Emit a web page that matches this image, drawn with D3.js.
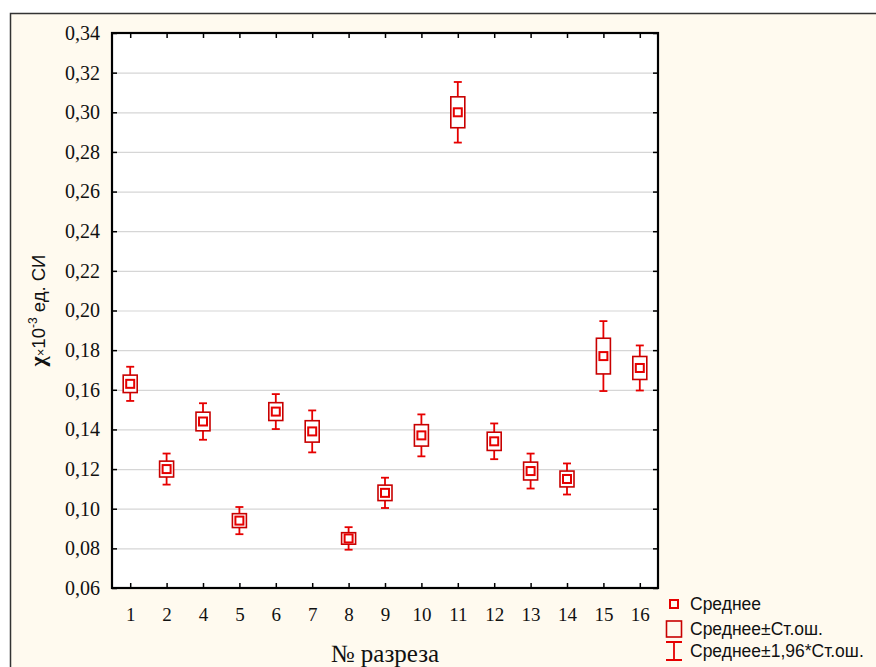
<!DOCTYPE html>
<html>
<head>
<meta charset="utf-8">
<script src="https://cdn.jsdelivr.net/npm/d3@7"></script>
<style>
  body { margin: 0; background: #fff; }
  svg { display: block; }
</style>
</head>
<body>
<svg id="chart" width="876" height="667"></svg>
<script>
// section numbers (no 3)
const sections = ["1", "2", "4", "5", "6", "7", "8", "9", "10", "11", "12", "13", "14", "15", "16"];
// mean magnetic susceptibility, x10^-3 SI units
const means = [0.163, 0.120, 0.144, 0.094, 0.149, 0.139, 0.085, 0.108, 0.137, 0.300, 0.134, 0.119, 0.115, 0.177, 0.171];
// standard error of the mean
const stdErr = [0.0044, 0.0040, 0.0047, 0.0035, 0.0045, 0.0054, 0.0029, 0.0039, 0.0054, 0.0078, 0.0046, 0.0045, 0.0040, 0.0090, 0.0058];
const yTicks = [0.06, 0.08, 0.10, 0.12, 0.14, 0.16, 0.18, 0.20, 0.22, 0.24, 0.26, 0.28, 0.30, 0.32, 0.34];
const legendLabels = ["Среднее", "Среднее±Ст.ош.", "Среднее±1,96*Ст.ош."];

const data = sections.map((s, i) => ({ name: s, mean: means[i], se: stdErr[i] }));

const svg = d3.select("#chart");
const margin = { top: 33, right: 218, bottom: 79, left: 112 };
const width = 876 - margin.left - margin.right;
const height = 667 - margin.top - margin.bottom;

// page background with frame
svg.append("rect")
  .attr("x", 10).attr("y", 13)
  .attr("width", 866).attr("height", 654)
  .attr("fill", "#fffaef");
svg.append("path")
  .attr("d", "M10.5,667V13.5H876")
  .attr("fill", "none")
  .attr("stroke", "#333")
  .attr("stroke-width", 1.5);

const graph = svg.append("g")
  .attr("transform", `translate(${margin.left}, ${margin.top})`);

graph.append("rect")
  .attr("width", width).attr("height", height)
  .attr("fill", "#fff");

// scales
const x = d3.scalePoint().domain(sections).range([0, width]).padding(0.5);
const y = d3.scaleLinear().domain([0.06, 0.34]).range([height, 0]);
const fmt = d => d3.format(".2f")(d).replace(".", ",");

// grid lines
graph.append("g")
  .call(d3.axisLeft(y).tickValues(yTicks).tickSize(-width).tickFormat(""))
  .call(g => g.select(".domain").remove())
  .selectAll("line")
  .attr("stroke", "#d6d6d6")
  .attr("stroke-width", 1.2);

// axes (ticks pointing inside)
const yAxisGroup = graph.append("g")
  .call(d3.axisLeft(y).tickValues(yTicks).tickSizeInner(-5).tickSizeOuter(0).tickPadding(12).tickFormat(fmt));
const yAxisRight = graph.append("g")
  .attr("transform", `translate(${width},0)`)
  .call(d3.axisRight(y).tickValues(yTicks).tickSizeInner(-5).tickSizeOuter(0).tickFormat(""));
const xAxisGroup = graph.append("g")
  .attr("transform", `translate(0,${height})`)
  .call(d3.axisBottom(x).tickSizeInner(-5).tickSizeOuter(0).tickPadding(20));
const xAxisTop = graph.append("g")
  .call(d3.axisTop(x).tickSizeInner(-5).tickSizeOuter(0).tickFormat(""));

[yAxisGroup, yAxisRight, xAxisGroup, xAxisTop].forEach(g => {
  g.attr("font-family", null);
  g.select(".domain").remove();
  g.selectAll("line").attr("stroke", "#000").attr("stroke-width", 1.5);
});

yAxisGroup.selectAll("text")
  .style("font-family", "'Liberation Serif', 'Times New Roman', serif")
  .attr("font-size", 20)
  .attr("fill", "#111");
xAxisGroup.selectAll("text")
  .style("font-family", "'Liberation Serif', 'Times New Roman', serif")
  .attr("font-size", 19)
  .attr("fill", "#111");

// plot frame
graph.append("rect")
  .attr("width", width).attr("height", height)
  .attr("fill", "none")
  .attr("stroke", "#000")
  .attr("stroke-width", 2.2);

// whiskers: mean ± 1.96*SE
const red = "#e60000";
const darkRed = "#c80000";
const boxW = 14, capW = 8, markW = 8;

const items = graph.selectAll("g.item").data(data).enter()
  .append("g").attr("class", "item")
  .attr("transform", d => `translate(${x(d.name)},0)`);

items.append("line")
  .attr("y1", d => y(d.mean + 1.96 * d.se))
  .attr("y2", d => y(d.mean - 1.96 * d.se))
  .attr("stroke", red).attr("stroke-width", 1.8);
items.selectAll("line.cap")
  .data(d => [d.mean + 1.96 * d.se, d.mean - 1.96 * d.se])
  .enter().append("line").attr("class", "cap")
  .attr("x1", -capW / 2).attr("x2", capW / 2)
  .attr("y1", v => y(v)).attr("y2", v => y(v))
  .attr("stroke", red).attr("stroke-width", 1.8);

// box: mean ± SE
items.append("rect")
  .attr("x", -boxW / 2)
  .attr("y", d => y(d.mean + d.se))
  .attr("width", boxW)
  .attr("height", d => y(d.mean - d.se) - y(d.mean + d.se))
  .attr("fill", "#fff")
  .attr("stroke", darkRed).attr("stroke-width", 1.6);

// mean marker
items.append("rect")
  .attr("x", -markW / 2)
  .attr("y", d => y(d.mean) - markW / 2)
  .attr("width", markW).attr("height", markW)
  .attr("fill", "#fff")
  .attr("stroke", red).attr("stroke-width", 2);

// axis titles
svg.append("text")
  .attr("x", margin.left + width / 2)
  .attr("y", 662)
  .attr("text-anchor", "middle")
  .attr("font-family", "'Liberation Serif', 'Times New Roman', serif")
  .attr("font-size", 25)
  .attr("fill", "#111")
  .text("№ разреза");

const yTitle = svg.append("text")
  .attr("transform", `translate(45, ${margin.top + height / 2}) rotate(-90)`)
  .attr("text-anchor", "middle")
  .attr("font-family", "'Liberation Sans', Arial, sans-serif")
  .attr("font-size", 18.5)
  .attr("fill", "#111");
yTitle.append("tspan").attr("font-family", "'Liberation Serif', serif").attr("font-size", 22).attr("font-weight", "bold").text("χ");
yTitle.append("tspan").attr("font-size", 13).text("×");
yTitle.append("tspan").text("10");
yTitle.append("tspan").attr("font-size", 12).attr("dy", -8).text("-3");
yTitle.append("tspan").attr("dy", 8).text(" ед. СИ");

// legend
const legend = svg.append("g").attr("transform", "translate(674, 0)");
const rowY = [604, 629, 651];

legend.append("rect")
  .attr("x", -4).attr("y", rowY[0] - 4)
  .attr("width", 8).attr("height", 8)
  .attr("fill", "none").attr("stroke", red).attr("stroke-width", 2);
legend.append("rect")
  .attr("x", -7.5).attr("y", rowY[1] - 8)
  .attr("width", 15).attr("height", 16)
  .attr("fill", "none").attr("stroke", darkRed).attr("stroke-width", 1.6);
legend.append("path")
  .attr("d", `M-8,${rowY[2] - 9}H8M0,${rowY[2] - 9}V${rowY[2] + 9}M-8,${rowY[2] + 9}H8`)
  .attr("fill", "none").attr("stroke", red).attr("stroke-width", 1.8);

legend.selectAll("text.lbl").data(legendLabels).enter()
  .append("text").attr("class", "lbl")
  .attr("x", 16)
  .attr("y", (d, i) => rowY[i] + 6)
  .attr("font-family", "'Liberation Sans', Arial, sans-serif")
  .attr("font-size", 17.5)
  .attr("fill", "#111")
  .text(d => d);
</script>
</body>
</html>
